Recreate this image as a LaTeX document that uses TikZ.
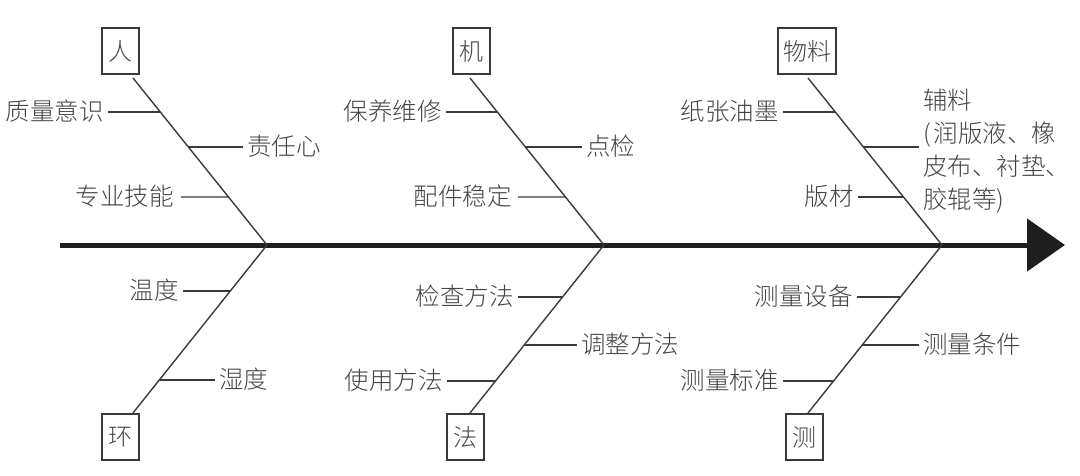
\documentclass[tikz,border=0pt]{standalone}
\usepackage{fontspec}
\newfontfamily\cjk{Noto Sans CJK SC Light}
\usetikzlibrary{arrows.meta,calc}
\definecolor{txt}{HTML}{444444}
\definecolor{ln}{HTML}{3A3A3A}
\definecolor{spine}{HTML}{1E1E1E}
\begin{document}
\begin{tikzpicture}[x=1pt,y=-1pt,
  cat/.style={draw=ln, line width=2pt, minimum height=46pt, minimum width=37pt, inner sep=5pt, font=\cjk\fontsize{24}{28}\selectfont, text=txt},
  lab/.style={font=\cjk\fontsize{24.5}{33}\selectfont, text=txt, inner sep=4pt},
  bone/.style={draw=ln, line width=1.4pt},
  tick/.style={draw=ln, line width=1.4pt},
  spineline/.style={draw=spine, line width=5pt, -{Triangle[length=38pt,width=52pt]}},
]
\useasboundingbox (0,0) rectangle (1080,476);

% spine
\coordinate (s) at (60,245);
\coordinate (e) at (1065,245);
\draw[spineline] (s) -- (e);

% junctions
\coordinate (J1) at (267,245);
\coordinate (J2) at (604,245);
\coordinate (J3) at (942,245);

% category boxes
\node[cat] (ren) at (120,51) {人};
\node[cat] (ji) at (471,51) {机};
\node[cat] (wl) at (807,51) {物料};
\node[cat] (huan) at (120,437) {环};
\node[cat] (fa) at (465,437) {法};
\node[cat] (ce) at (804,437) {测};

% bone ends
\coordinate (U1) at (133,78);
\coordinate (U2) at (470,78);
\coordinate (U3) at (808,78);
\coordinate (D1) at (133,413);
\coordinate (D2) at (470,413);
\coordinate (D3) at (808,413);

\draw[bone] (U1) -- (J1);
\draw[bone] (U2) -- (J2);
\draw[bone] (U3) -- (J3);
\draw[bone] (J1) -- (D1);
\draw[bone] (J2) -- (D2);
\draw[bone] (J3) -- (D3);

% points on bones
\foreach \i in {1,2,3}{
  \coordinate (a\i) at ($(U\i)!0.2036!(J\i)$);
  \coordinate (b\i) at ($(U\i)!0.4132!(J\i)$);
  \coordinate (c\i) at ($(U\i)!0.7126!(J\i)$);
  \coordinate (p\i) at ($(J\i)!0.3095!(D\i)$);
  \coordinate (q\i) at ($(J\i)!0.5952!(D\i)$);
  \coordinate (r\i) at ($(J\i)!0.8095!(D\i)$);
}
\coordinate (h1) at ($(J1)!0.2738!(D1)$);
\coordinate (h2) at ($(J1)!0.8036!(D1)$);

% 人
\node[lab, anchor=east] (l11) at (108,111) {质量意识};
\node[lab, anchor=west] (l12) at (243,146) {责任心};
\node[lab, anchor=east] (l13) at (178,196) {专业技能};
\coordinate (k13) at (181,197);
\draw[tick] (l11.east |- a1) -- (a1);
\draw[tick] (l12.west |- b1) -- (b1);
\draw[tick] (k13) -- (c1);

% 机
\node[lab, anchor=east] (l21) at (446,111) {保养维修};
\node[lab, anchor=west] (l22) at (582,146) {点检};
\node[lab, anchor=east] (l23) at (516,196) {配件稳定};
\coordinate (k23) at (518,197);
\draw[tick] (l21.east |- a2) -- (a2);
\draw[tick] (l22.west |- b2) -- (b2);
\draw[tick] (k23) -- (c2);

% 物料
\node[lab, anchor=east] (l31) at (783,111) {纸张油墨};
\node[lab, anchor=west, align=left] (l32) at (919,151) {辅料\\(\hspace{3pt}润版液、橡\\皮布、衬垫、\\胶辊等)};
\node[lab, anchor=east] (l33) at (858,196) {版材};
\draw[tick] (l31.east |- a3) -- (a3);
\draw[tick] (b3 -| l32.west) -- (b3);
\draw[tick] (l33.east |- c3) -- (c3);

% 环
\node[lab, anchor=east] (l41) at (183,290) {温度};
\node[lab, anchor=west] (l42) at (215,379) {湿度};
\draw[tick] (l41.east |- h1) -- (h1);
\draw[tick] (l42.west |- h2) -- (h2);

% 法
\node[lab, anchor=east] (l51) at (518,296) {检查方法};
\node[lab, anchor=west] (l52) at (577,344) {调整方法};
\node[lab, anchor=east] (l53) at (447,380) {使用方法};
\draw[tick] (l51.east |- p2) -- (p2);
\draw[tick] (l52.west |- q2) -- (q2);
\draw[tick] (l53.east |- r2) -- (r2);

% 测
\node[lab, anchor=east] (l61) at (857,296) {测量设备};
\node[lab, anchor=west] (l62) at (919,344) {测量条件};
\node[lab, anchor=east] (l63) at (783,380) {测量标准};
\draw[tick] (l61.east |- p3) -- (p3);
\draw[tick] (l62.west |- q3) -- (q3);
\draw[tick] (l63.east |- r3) -- (r3);
\end{tikzpicture}
\end{document}
